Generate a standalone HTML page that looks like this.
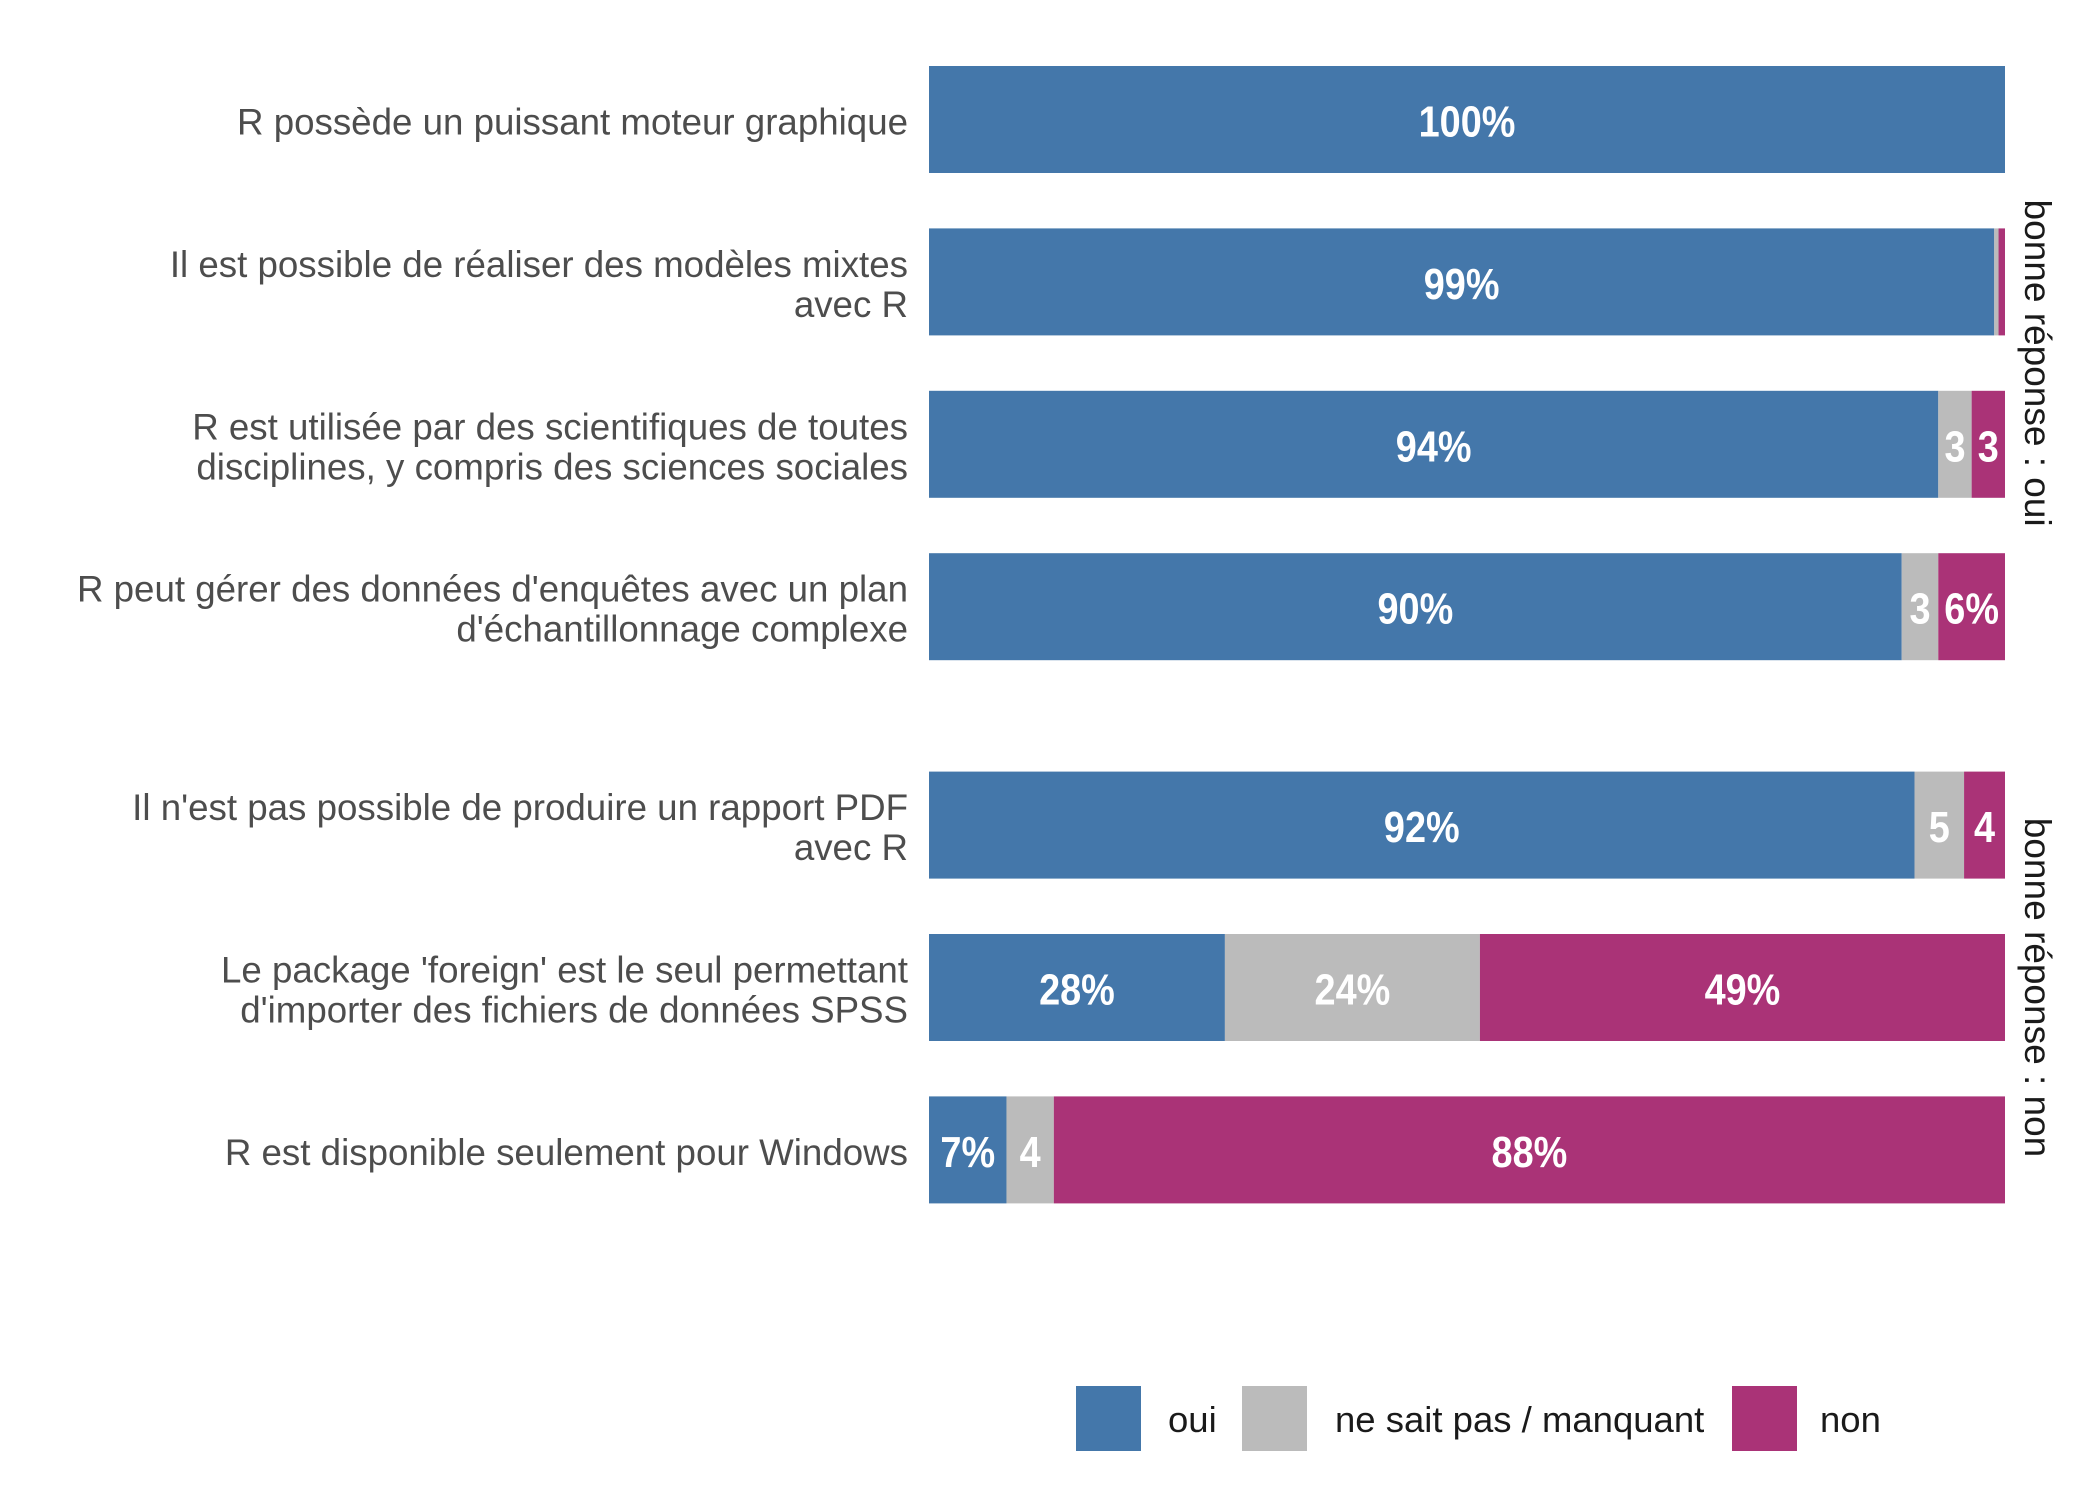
<!DOCTYPE html>
<html><head><meta charset="utf-8"><style>
html,body{margin:0;padding:0;background:#fff;}
svg{display:block;font-family:"Liberation Sans",sans-serif;}
</style></head><body>
<svg id="chart" width="2100" height="1500" viewBox="0 0 2100 1500" xmlns="http://www.w3.org/2000/svg"></svg>
<script>
const questions = [
  ["R possède un puissant moteur graphique"],
  ["Il est possible de réaliser des modèles mixtes","avec R"],
  ["R est utilisée par des scientifiques de toutes","disciplines, y compris des sciences sociales"],
  ["R peut gérer des données d'enquêtes avec un plan","d'échantillonnage complexe"],
  ["Il n'est pas possible de produire un rapport PDF","avec R"],
  ["Le package 'foreign' est le seul permettant","d'importer des fichiers de données SPSS"],
  ["R est disponible seulement pour Windows"]
];
const groups = [0,0,0,0,1,1,1];
const groupLabels = ["bonne réponse : oui","bonne réponse : non"];
const ouiValues = [100, 99.0, 93.8, 90.4, 91.5, 27.5, 7.2];
const nspValues = [0, 0.4, 3.1, 3.4, 4.6, 23.7, 4.4];
const nonValues = [0, 0.6, 3.1, 6.2, 3.8, 48.8, 88.4];
const seriesNames = ["oui","ne sait pas / manquant","non"];
const colors = ["#4477aa","#bbbbbb","#aa3377"];

const svg = document.getElementById('chart');
const NS = "http://www.w3.org/2000/svg";
function mk(tag, attrs, parent){const e=document.createElementNS(NS,tag);for(const k in attrs)e.setAttribute(k,attrs[k]);(parent||svg).appendChild(e);return e;}

const x0 = 929, x1 = 2005;
function xScale(v){return x0 + (x1-x0)*v/100;}
const barH = 107;
function yTop(i){return 66 + i*162.4 + (groups[i]===1 ? 56 : 0);}

const series = [ouiValues, nspValues, nonValues];
for(let i=0;i<questions.length;i++){
  const total = ouiValues[i]+nspValues[i]+nonValues[i];
  let cum = 0;
  const yt = yTop(i);
  for(let s=0;s<3;s++){
    const v = series[s][i]*100/total;
    const xa = xScale(cum), xb = xScale(cum+v);
    const r = mk('rect',{x:xa,y:yt,width:Math.max(0,xb-xa),height:barH,fill:colors[s]});
    
    
    const rv = Math.round(series[s][i]);
    if(series[s][i] >= 2){
      const cx = (xa+xb)/2;
      const t = mk('text',{x:0,y:0,'text-anchor':'middle','font-size':'44','font-weight':'bold',fill:'#fff',transform:`translate(${cx} ${yt+barH/2+17}) scale(0.86 1)`});
      t.textContent = rv >= 6 ? rv+"%" : String(rv);
      
      
    }
    cum += v;
  }
  const lines = questions[i];
  const cy = yt + barH/2;
  lines.forEach((ln,k)=>{
    const y = cy + 15 + (k - (lines.length-1)/2)*40;
    const t = mk('text',{x:908,y:y,'text-anchor':'end','font-size':'36.7',fill:'#4d4d4d'});
    t.textContent = ln;
    
    
  });
}
for(let g=0;g<groupLabels.length;g++){
  const idx = groups.map((v,i)=>v===g?i:-1).filter(i=>i>=0);
  const cy = (yTop(idx[0]) + yTop(idx[idx.length-1]) + barH)/2;
  const t = mk('text',{x:0,y:0,'text-anchor':'middle','font-size':'37',fill:'#1a1a1a',transform:`translate(2025 ${cy}) rotate(90)`});
  t.textContent = groupLabels[g];
  
  
}
const legendBoxX = [1076,1242,1732];
const legendTextX = [1168,1335,1820];
for(let s=0;s<3;s++){
  const g = mk('g',{});
  
  
  mk('rect',{x:legendBoxX[s],y:1386,width:65,height:65,fill:colors[s]},g);
  const t = mk('text',{x:legendTextX[s],y:1432,'font-size':'36.5',fill:'#1a1a1a'},g);
  t.textContent = seriesNames[s];
}
</script>
</body></html>
